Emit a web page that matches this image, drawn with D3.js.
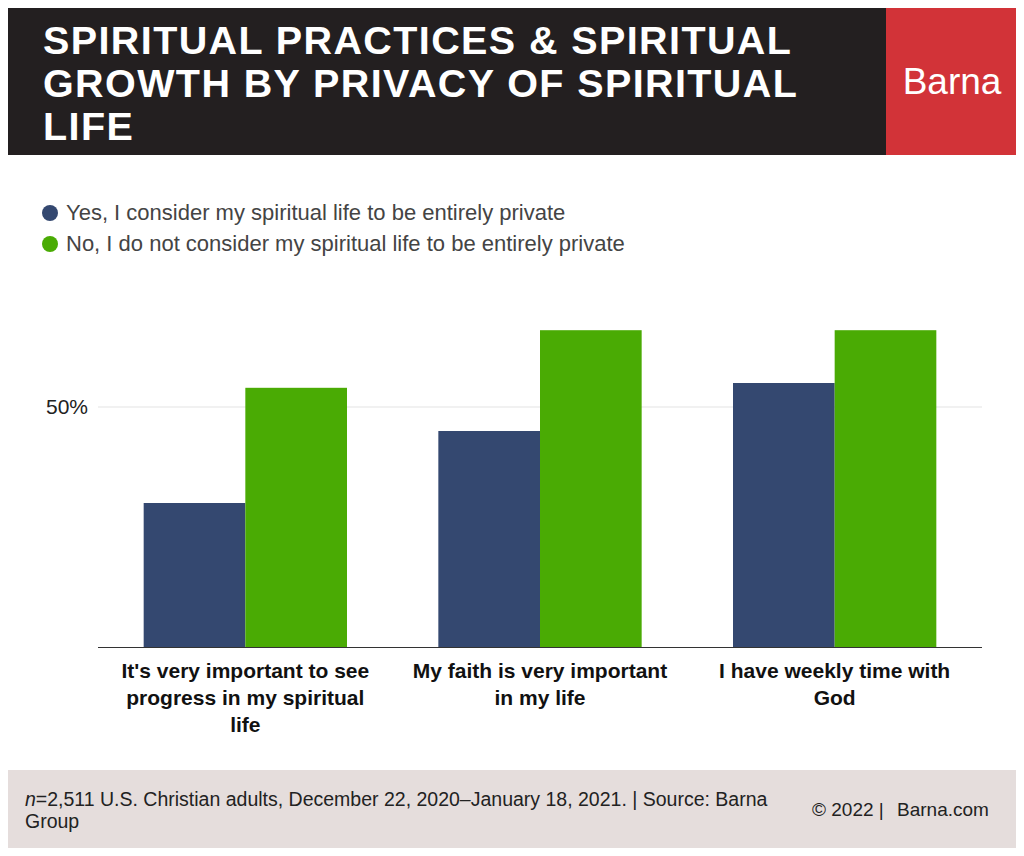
<!DOCTYPE html>
<html><head><meta charset="utf-8">
<script src="https://cdn.jsdelivr.net/npm/d3@7"></script>
<style>body{margin:0;background:#fff}svg{font-family:"Liberation Sans",Arial,sans-serif}</style>
</head><body>
<svg width="1024" height="856"></svg>
<script>
const categories = [
  ["It's very important to see", "progress in my spiritual", "life"],
  ["My faith is very important", "in my life"],
  ["I have weekly time with", "God"]
];
const seriesNames = [
  "Yes, I consider my spiritual life to be entirely private",
  "No, I do not consider my spiritual life to be entirely private"
];
const yesValues = [30, 45, 55];
const noValues = [54, 66, 66];
const colors = ['#344870', '#4aab04'];
const yTicks = [50];

var svg = d3.select('svg');

// header
svg.append('rect').attr('x', 8).attr('y', 8).attr('width', 878).attr('height', 147).attr('fill', '#231f20');
svg.append('rect').attr('x', 886).attr('y', 8).attr('width', 130).attr('height', 147).attr('fill', '#d23338');
svg.append('text').attr('x', 952).attr('y', 94).attr('text-anchor', 'middle')
  .attr('fill', '#fff').style('font-size', '37px').text('Barna');
['SPIRITUAL PRACTICES & SPIRITUAL', 'GROWTH BY PRIVACY OF SPIRITUAL', 'LIFE'].forEach((t, i) => {
  svg.append('text').attr('x', 43).attr('y', 54 + i * 43).attr('fill', '#fff')
    .style('font-size', '39.5px').style('font-weight', 'bold').style('letter-spacing', '1.4px').text(t);
});

// legend
seriesNames.forEach((n, i) => {
  svg.append('circle').attr('cx', 50).attr('cy', 213 + i * 31).attr('r', 8).attr('fill', colors[i]);
  svg.append('text').attr('x', 66).attr('y', 220 + i * 31).attr('fill', '#444')
    .style('font-size', '22px').text(n);
});

const x0 = d3.scaleBand().domain(d3.range(3)).range([98, 982]).paddingInner(0.31).paddingOuter(0.155);
const x1 = d3.scaleBand().domain([0, 1]).range([0, x0.bandwidth()]);
const y = d3.scaleLinear().domain([0, 100]).range([647, 167]);

svg.append('g').selectAll('line').data(yTicks).enter().append('line')
  .attr('x1', 98).attr('x2', 982).attr('y1', d => y(d)).attr('y2', d => y(d))
  .attr('stroke', '#e3e3e3');
svg.append('g').selectAll('text').data(yTicks).enter().append('text')
  .attr('x', 88).attr('y', d => y(d) + 7).attr('text-anchor', 'end')
  .style('font-size', '21px').attr('fill', '#222').text(d => d + '%');

const g = svg.append('g');
[yesValues, noValues].forEach((vals, s) => {
  g.selectAll('rect.s' + s).data(vals).enter().append('rect')
    .attr('x', (d, i) => x0(i) + x1(s)).attr('width', x1.bandwidth())
    .attr('y', d => y(d)).attr('height', d => y(0) - y(d)).attr('fill', colors[s]);
});
svg.append('line').attr('x1', 98).attr('x2', 982).attr('y1', 647.5).attr('y2', 647.5).attr('stroke', '#333');

categories.forEach((lines, i) => {
  lines.forEach((l, j) => {
    svg.append('text').attr('x', x0(i) + x0.bandwidth() / 2).attr('y', 678 + j * 27)
      .attr('text-anchor', 'middle').style('font-size', '21px').style('font-weight', 'bold')
      .attr('fill', '#111').text(l);
  });
});

// footer
svg.append('rect').attr('x', 8).attr('y', 770).attr('width', 1008).attr('height', 78).attr('fill', '#e5dddc');
const f = svg.append('text').attr('x', 25).attr('y', 806).style('font-size', '19.5px').attr('fill', '#222');
f.append('tspan').style('font-style', 'italic').text('n');
f.append('tspan').text('=2,511 U.S. Christian adults, December 22, 2020–January 18, 2021. | Source: Barna');
svg.append('text').attr('x', 25).attr('y', 828).style('font-size', '19.5px').attr('fill', '#222').text('Group');
svg.append('text').attr('x', 812).attr('y', 816).style('font-size', '19px').attr('fill', '#222').text('© 2022 |');
svg.append('text').attr('x', 897).attr('y', 816).style('font-size', '19px').attr('fill', '#222').text('Barna.com');
</script>
</body></html>
